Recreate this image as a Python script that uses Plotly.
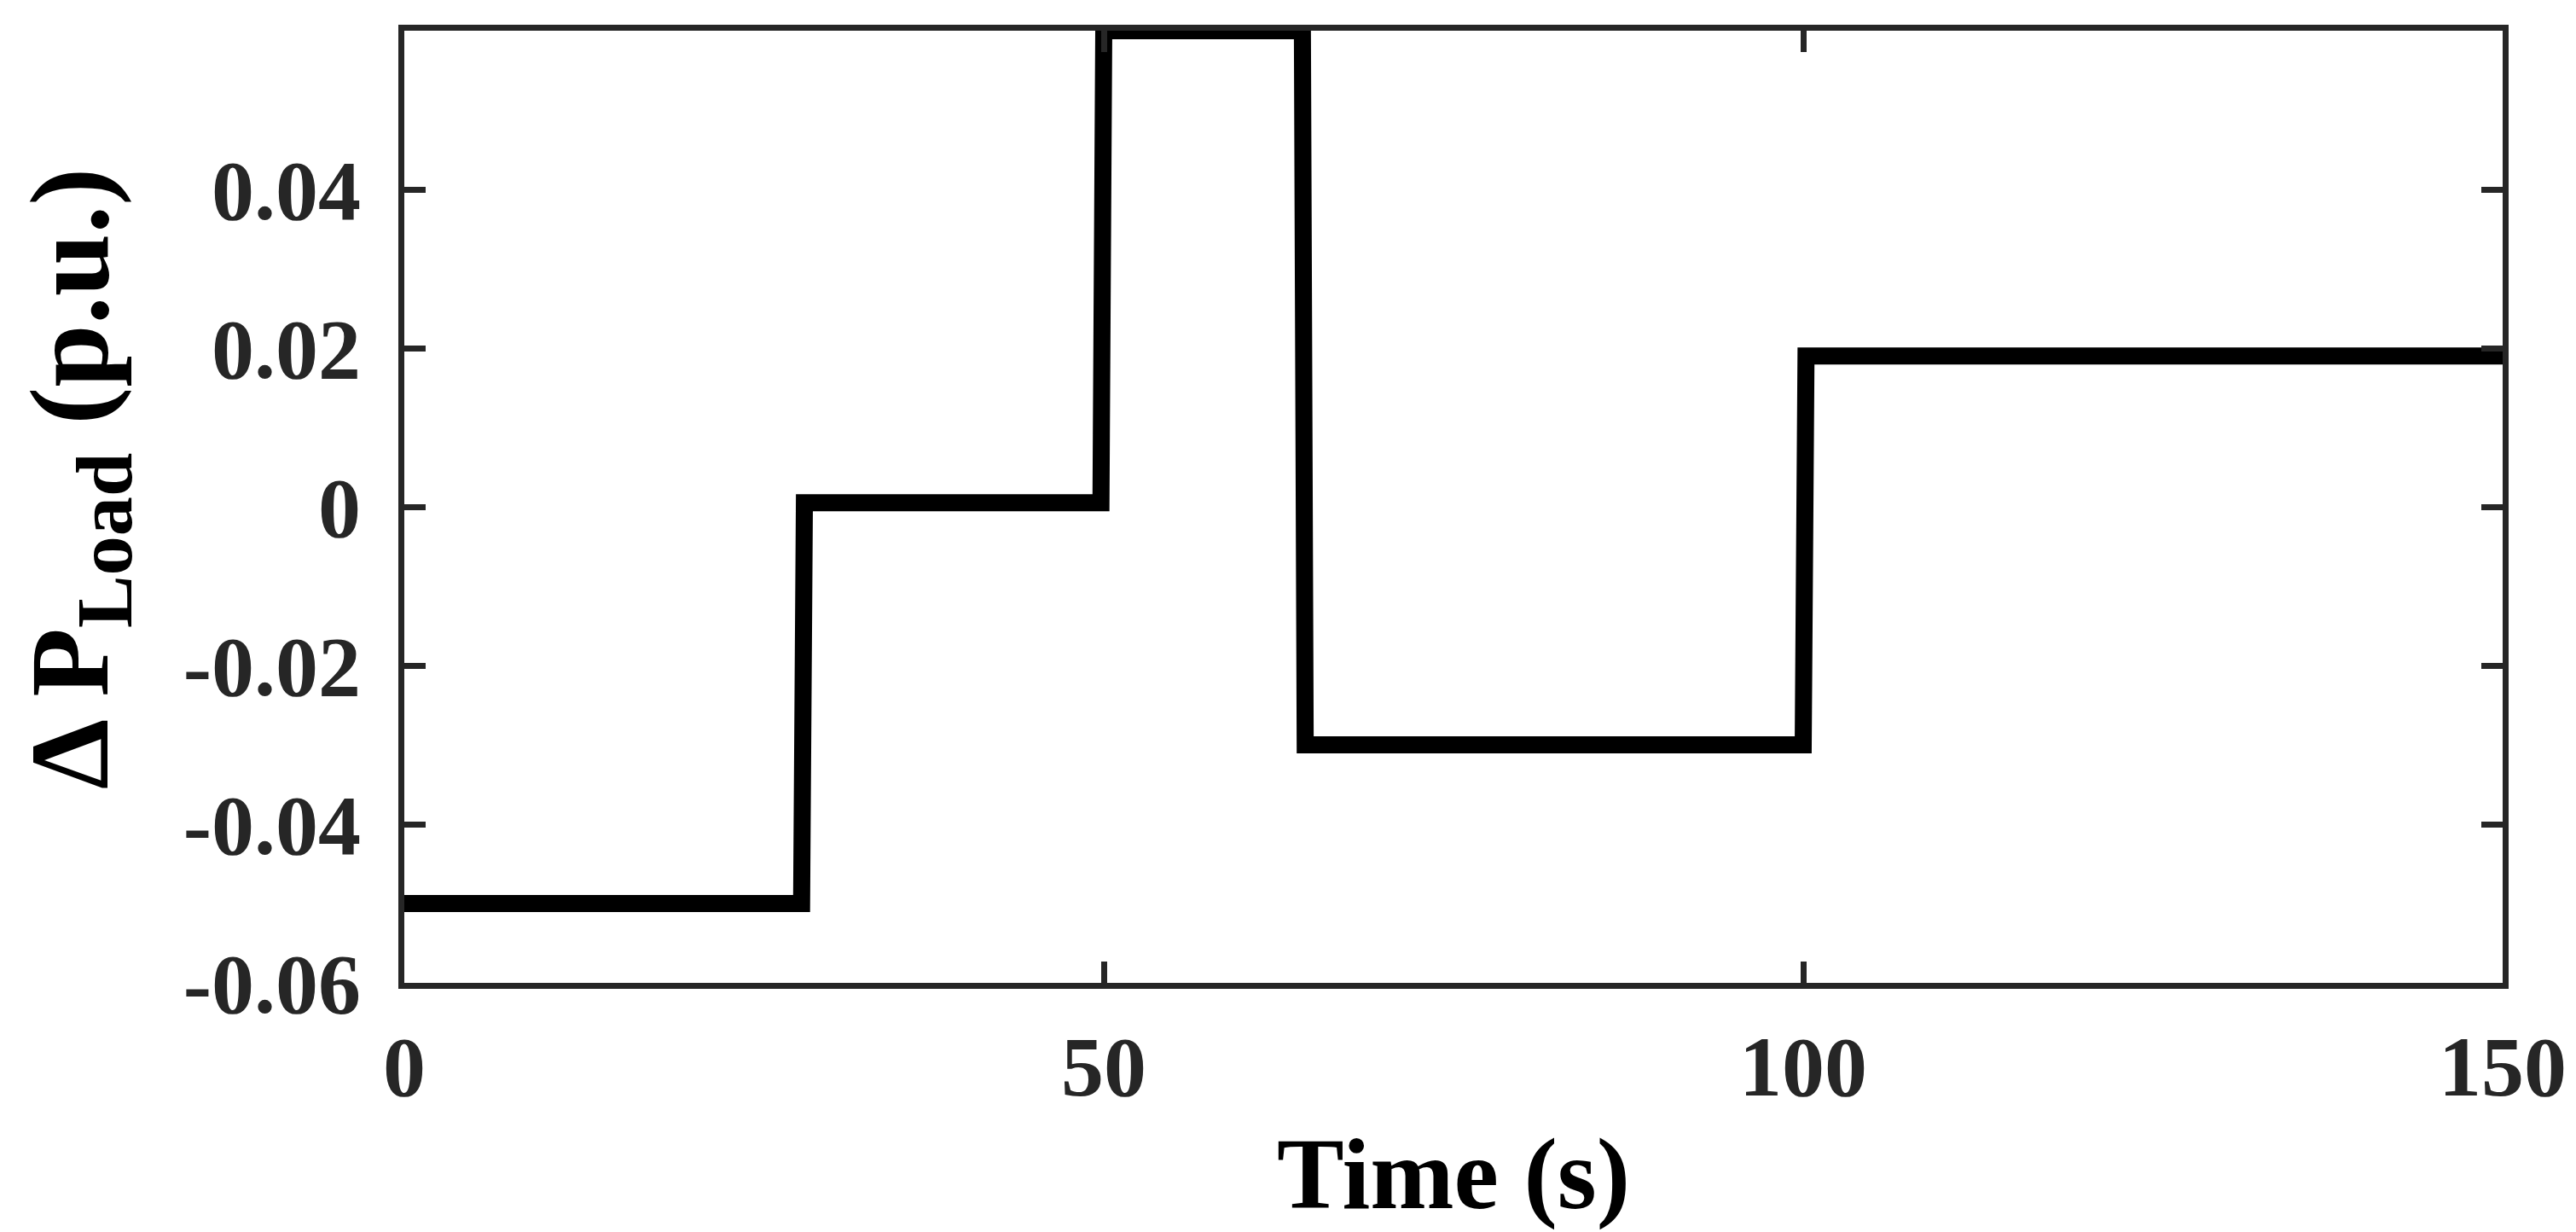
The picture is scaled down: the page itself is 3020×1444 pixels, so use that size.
import plotly.graph_objects as go

# Data (time in s, load change in p.u.)
time_s = [0, 28.4, 28.6, 49.8, 50.0, 64.2, 64.4, 100.0, 100.2, 150]
delta_p_load = [-0.05, -0.05, 0.0005, 0.0005, 0.06, 0.06, -0.03, -0.03, 0.019, 0.019]

x_ticks = [0, 50, 100, 150]
y_ticks = [-0.06, -0.04, -0.02, 0, 0.02, 0.04]
y_tick_text = ["-0.06", "-0.04", "-0.02", "0", "0.02", "0.04"]

FONT = "Liberation Serif"
AX = "#262626"

fig = go.Figure()
fig.add_trace(go.Scatter(
    x=time_s, y=delta_p_load, mode="lines",
    line=dict(color="#000000", width=20),
    showlegend=False,
))

axis_common = dict(
    showline=True, linewidth=7, linecolor=AX, mirror="ticks",
    ticks="inside", ticklen=25, tickwidth=7, tickcolor=AX,
    showgrid=False, zeroline=False,
    tickfont=dict(family=FONT, size=100, color=AX, weight="bold"),
)

fig.update_xaxes(
    range=[0, 150], tickvals=x_ticks, ticktext=[str(v) for v in x_ticks],
    ticklabelstandoff=5,
    title=dict(text="<b>Time (s)</b>", font=dict(family=FONT, size=118, color="#000000"), standoff=31),
    **axis_common,
)
fig.update_yaxes(
    range=[-0.06, 0.06], tickvals=y_ticks, ticktext=y_tick_text,
    ticklabelstandoff=24,
    title=dict(text="<b>\u00a0\u00a0Δ P<sub>Load</sub> (p.u.)</b>", font=dict(family=FONT, size=132, color="#000000"), standoff=55),
    **axis_common,
)

fig.update_layout(
    width=3020, height=1444,
    margin=dict(l=466, r=94, t=28, b=300, pad=0),
    paper_bgcolor="white", plot_bgcolor="white",
)

fig.write_html("out.html")
